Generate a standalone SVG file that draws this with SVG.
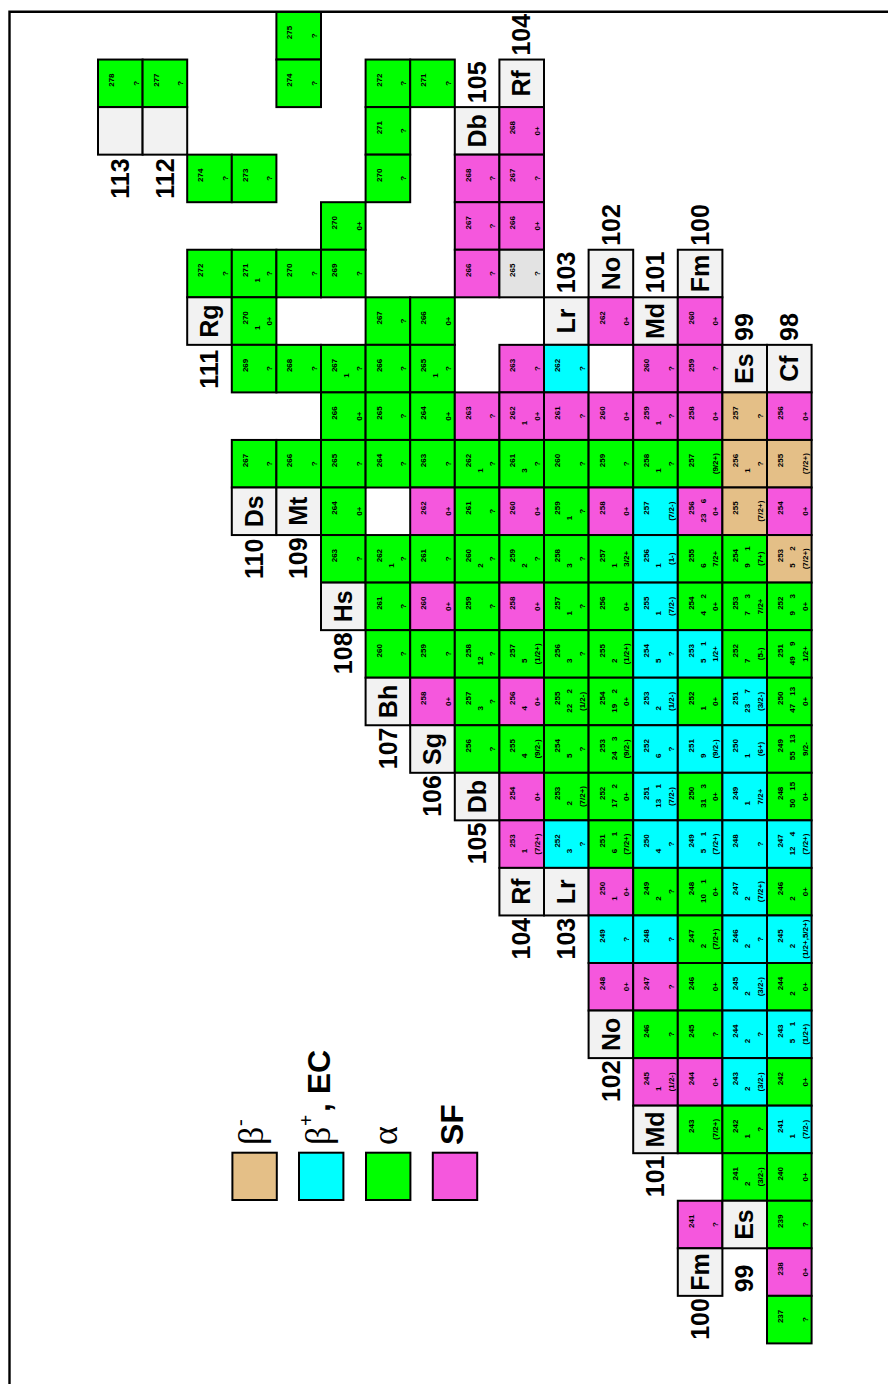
<svg xmlns="http://www.w3.org/2000/svg" width="888" height="1384" viewBox="0 0 888 1384">
<style>
.c{stroke:#000;stroke-width:2}
.g{fill:#00ff00}.p{fill:#f557dd}.b{fill:#00ffff}.t{fill:#e4bf87}.e{fill:#f2f2f2}.q{fill:#e3e3e3}
text{font-family:"Liberation Sans",Arial,sans-serif;font-weight:bold;fill:#000}
.m,.s,.n{font-size:8px;text-anchor:middle}
.L{font-size:25px;text-anchor:middle}
.Z{font-size:25px}
.gk{font-family:"Liberation Serif","Times New Roman",serif;font-weight:normal;font-size:36px}
.sf{font-size:32px}
</style>
<rect width="888" height="1384" fill="#fff"/>
<path d="M9.5 1384V11.7H888" fill="none" stroke="#000" stroke-width="2.4"/>

<!-- Z=113 -->
<g id="Z113A278" transform="translate(98,107.1) rotate(-90)"><rect class="c g" width="47.55" height="44.6"/><text class="m" x="27" y="16">278</text><text class="s" x="23.8" y="40.5">?</text></g>
<g id="Z113" transform="translate(98,154.65) rotate(-90)"><rect class="c e" width="47.55" height="44.6"/><text class="Z" x="-44" y="31">113</text></g>
<!-- Z=112 -->
<g id="Z112A277" transform="translate(142.6,107.1) rotate(-90)"><rect class="c g" width="47.55" height="44.6"/><text class="m" x="27" y="16">277</text><text class="s" x="23.8" y="40.5">?</text></g>
<g id="Z112" transform="translate(142.6,154.65) rotate(-90)"><rect class="c e" width="47.55" height="44.6"/><text class="Z" x="-44" y="31">112</text></g>
<!-- Z=111 Rg -->
<g id="Rg274" transform="translate(187.2,202.2) rotate(-90)"><rect class="c g" width="47.55" height="44.6"/><text class="m" x="27" y="16">274</text><text class="s" x="23.8" y="40.5">?</text></g>
<g id="Rg272" transform="translate(187.2,297.3) rotate(-90)"><rect class="c g" width="47.55" height="44.6"/><text class="m" x="27" y="16">272</text><text class="s" x="23.8" y="40.5">?</text></g>
<g id="Rg" transform="translate(187.2,344.85) rotate(-90)"><rect class="c e" width="47.55" height="44.6"/><text class="L" x="23.8" y="31">Rg</text><text class="Z" x="-44" y="31">111</text></g>
<!-- Z=110 Ds -->
<g id="Ds273" transform="translate(231.8,202.2) rotate(-90)"><rect class="c g" width="47.55" height="44.6"/><text class="m" x="27" y="16">273</text><text class="s" x="23.8" y="40.5">?</text></g>
<g id="Ds271" transform="translate(231.8,297.3) rotate(-90)"><rect class="c g" width="47.55" height="44.6"/><text class="m" x="27" y="16">271</text><text class="n" x="17" y="28">1</text><text class="s" x="23.8" y="40.5">?</text></g>
<g id="Ds270" transform="translate(231.8,344.85) rotate(-90)"><rect class="c g" width="47.55" height="44.6"/><text class="m" x="27" y="16">270</text><text class="n" x="17" y="28">1</text><text class="s" x="23.8" y="40.5">0+</text></g>
<g id="Ds269" transform="translate(231.8,392.4) rotate(-90)"><rect class="c g" width="47.55" height="44.6"/><text class="m" x="27" y="16">269</text><text class="s" x="23.8" y="40.5">?</text></g>
<g id="Ds267" transform="translate(231.8,487.5) rotate(-90)"><rect class="c g" width="47.55" height="44.6"/><text class="m" x="27" y="16">267</text><text class="s" x="23.8" y="40.5">?</text></g>
<g id="Ds" transform="translate(231.8,535.05) rotate(-90)"><rect class="c e" width="47.55" height="44.6"/><text class="L" x="23.8" y="31">Ds</text><text class="Z" x="-44" y="31">110</text></g>
<!-- Z=109 Mt -->
<g id="Mt275" transform="translate(276.4,59.55) rotate(-90)"><rect class="c g" width="47.55" height="44.6"/><text class="m" x="27" y="16">275</text><text class="s" x="23.8" y="40.5">?</text></g>
<g id="Mt274" transform="translate(276.4,107.1) rotate(-90)"><rect class="c g" width="47.55" height="44.6"/><text class="m" x="27" y="16">274</text><text class="s" x="23.8" y="40.5">?</text></g>
<g id="Mt270" transform="translate(276.4,297.3) rotate(-90)"><rect class="c g" width="47.55" height="44.6"/><text class="m" x="27" y="16">270</text><text class="s" x="23.8" y="40.5">?</text></g>
<g id="Mt268" transform="translate(276.4,392.4) rotate(-90)"><rect class="c g" width="47.55" height="44.6"/><text class="m" x="27" y="16">268</text><text class="s" x="23.8" y="40.5">?</text></g>
<g id="Mt266" transform="translate(276.4,487.5) rotate(-90)"><rect class="c g" width="47.55" height="44.6"/><text class="m" x="27" y="16">266</text><text class="s" x="23.8" y="40.5">?</text></g>
<g id="Mt" transform="translate(276.4,535.05) rotate(-90)"><rect class="c e" width="47.55" height="44.6"/><text class="L" x="23.8" y="31">Mt</text><text class="Z" x="-44" y="31">109</text></g>
<!-- Z=108 Hs -->
<g id="Hs270" transform="translate(321,249.75) rotate(-90)"><rect class="c g" width="47.55" height="44.6"/><text class="m" x="27" y="16">270</text><text class="s" x="23.8" y="40.5">0+</text></g>
<g id="Hs269" transform="translate(321,297.3) rotate(-90)"><rect class="c g" width="47.55" height="44.6"/><text class="m" x="27" y="16">269</text><text class="s" x="23.8" y="40.5">?</text></g>
<g id="Hs267" transform="translate(321,392.4) rotate(-90)"><rect class="c g" width="47.55" height="44.6"/><text class="m" x="27" y="16">267</text><text class="n" x="17" y="28">1</text><text class="s" x="23.8" y="40.5">?</text></g>
<g id="Hs266" transform="translate(321,439.95) rotate(-90)"><rect class="c g" width="47.55" height="44.6"/><text class="m" x="27" y="16">266</text><text class="s" x="23.8" y="40.5">0+</text></g>
<g id="Hs265" transform="translate(321,487.5) rotate(-90)"><rect class="c g" width="47.55" height="44.6"/><text class="m" x="27" y="16">265</text><text class="s" x="23.8" y="40.5">?</text></g>
<g id="Hs264" transform="translate(321,535.05) rotate(-90)"><rect class="c g" width="47.55" height="44.6"/><text class="m" x="27" y="16">264</text><text class="s" x="23.8" y="40.5">0+</text></g>
<g id="Hs263" transform="translate(321,582.6) rotate(-90)"><rect class="c g" width="47.55" height="44.6"/><text class="m" x="27" y="16">263</text><text class="s" x="23.8" y="40.5">?</text></g>
<g id="Hs" transform="translate(321,630.15) rotate(-90)"><rect class="c e" width="47.55" height="44.6"/><text class="L" x="23.8" y="31">Hs</text><text class="Z" x="-44" y="31">108</text></g>
<!-- Z=107 Bh -->
<g id="Bh272" transform="translate(365.6,107.1) rotate(-90)"><rect class="c g" width="47.55" height="44.6"/><text class="m" x="27" y="16">272</text><text class="s" x="23.8" y="40.5">?</text></g>
<g id="Bh271" transform="translate(365.6,154.65) rotate(-90)"><rect class="c g" width="47.55" height="44.6"/><text class="m" x="27" y="16">271</text><text class="s" x="23.8" y="40.5">?</text></g>
<g id="Bh270" transform="translate(365.6,202.2) rotate(-90)"><rect class="c g" width="47.55" height="44.6"/><text class="m" x="27" y="16">270</text><text class="s" x="23.8" y="40.5">?</text></g>
<g id="Bh267" transform="translate(365.6,344.85) rotate(-90)"><rect class="c g" width="47.55" height="44.6"/><text class="m" x="27" y="16">267</text><text class="s" x="23.8" y="40.5">?</text></g>
<g id="Bh266" transform="translate(365.6,392.4) rotate(-90)"><rect class="c g" width="47.55" height="44.6"/><text class="m" x="27" y="16">266</text><text class="s" x="23.8" y="40.5">?</text></g>
<g id="Bh265" transform="translate(365.6,439.95) rotate(-90)"><rect class="c g" width="47.55" height="44.6"/><text class="m" x="27" y="16">265</text><text class="s" x="23.8" y="40.5">?</text></g>
<g id="Bh264" transform="translate(365.6,487.5) rotate(-90)"><rect class="c g" width="47.55" height="44.6"/><text class="m" x="27" y="16">264</text><text class="s" x="23.8" y="40.5">?</text></g>
<g id="Bh262" transform="translate(365.6,582.6) rotate(-90)"><rect class="c g" width="47.55" height="44.6"/><text class="m" x="27" y="16">262</text><text class="n" x="17" y="28">1</text><text class="s" x="23.8" y="40.5">?</text></g>
<g id="Bh261" transform="translate(365.6,630.15) rotate(-90)"><rect class="c g" width="47.55" height="44.6"/><text class="m" x="27" y="16">261</text><text class="s" x="23.8" y="40.5">?</text></g>
<g id="Bh260" transform="translate(365.6,677.7) rotate(-90)"><rect class="c g" width="47.55" height="44.6"/><text class="m" x="27" y="16">260</text><text class="s" x="23.8" y="40.5">?</text></g>
<g id="Bh" transform="translate(365.6,725.25) rotate(-90)"><rect class="c e" width="47.55" height="44.6"/><text class="L" x="23.8" y="31">Bh</text><text class="Z" x="-44" y="31">107</text></g>
<!-- Z=106 Sg -->
<g id="Sg271" transform="translate(410.2,107.1) rotate(-90)"><rect class="c g" width="47.55" height="44.6"/><text class="m" x="27" y="16">271</text><text class="s" x="23.8" y="40.5">?</text></g>
<g id="Sg266" transform="translate(410.2,344.85) rotate(-90)"><rect class="c g" width="47.55" height="44.6"/><text class="m" x="27" y="16">266</text><text class="s" x="23.8" y="40.5">0+</text></g>
<g id="Sg265" transform="translate(410.2,392.4) rotate(-90)"><rect class="c g" width="47.55" height="44.6"/><text class="m" x="27" y="16">265</text><text class="n" x="17" y="28">1</text><text class="s" x="23.8" y="40.5">?</text></g>
<g id="Sg264" transform="translate(410.2,439.95) rotate(-90)"><rect class="c g" width="47.55" height="44.6"/><text class="m" x="27" y="16">264</text><text class="s" x="23.8" y="40.5">0+</text></g>
<g id="Sg263" transform="translate(410.2,487.5) rotate(-90)"><rect class="c g" width="47.55" height="44.6"/><text class="m" x="27" y="16">263</text><text class="s" x="23.8" y="40.5">?</text></g>
<g id="Sg262" transform="translate(410.2,535.05) rotate(-90)"><rect class="c p" width="47.55" height="44.6"/><text class="m" x="27" y="16">262</text><text class="s" x="23.8" y="40.5">0+</text></g>
<g id="Sg261" transform="translate(410.2,582.6) rotate(-90)"><rect class="c g" width="47.55" height="44.6"/><text class="m" x="27" y="16">261</text><text class="s" x="23.8" y="40.5">?</text></g>
<g id="Sg260" transform="translate(410.2,630.15) rotate(-90)"><rect class="c p" width="47.55" height="44.6"/><text class="m" x="27" y="16">260</text><text class="s" x="23.8" y="40.5">0+</text></g>
<g id="Sg259" transform="translate(410.2,677.7) rotate(-90)"><rect class="c g" width="47.55" height="44.6"/><text class="m" x="27" y="16">259</text><text class="s" x="23.8" y="40.5">?</text></g>
<g id="Sg258" transform="translate(410.2,725.25) rotate(-90)"><rect class="c p" width="47.55" height="44.6"/><text class="m" x="27" y="16">258</text><text class="s" x="23.8" y="40.5">0+</text></g>
<g id="Sg" transform="translate(410.2,772.8) rotate(-90)"><rect class="c e" width="47.55" height="44.6"/><text class="L" x="23.8" y="31">Sg</text><text class="Z" x="-44" y="31">106</text></g>
<!-- Z=105 Db -->
<g id="Db_top" transform="translate(454.8,154.65) rotate(-90)"><rect class="c e" width="47.55" height="44.6"/><text class="L" x="23.8" y="31">Db</text><text class="Z" x="51.5" y="31">105</text></g>
<g id="Db268" transform="translate(454.8,202.2) rotate(-90)"><rect class="c p" width="47.55" height="44.6"/><text class="m" x="27" y="16">268</text><text class="s" x="23.8" y="40.5">?</text></g>
<g id="Db267" transform="translate(454.8,249.75) rotate(-90)"><rect class="c p" width="47.55" height="44.6"/><text class="m" x="27" y="16">267</text><text class="s" x="23.8" y="40.5">?</text></g>
<g id="Db266" transform="translate(454.8,297.3) rotate(-90)"><rect class="c p" width="47.55" height="44.6"/><text class="m" x="27" y="16">266</text><text class="s" x="23.8" y="40.5">?</text></g>
<g id="Db263" transform="translate(454.8,439.95) rotate(-90)"><rect class="c p" width="47.55" height="44.6"/><text class="m" x="27" y="16">263</text><text class="s" x="23.8" y="40.5">?</text></g>
<g id="Db262" transform="translate(454.8,487.5) rotate(-90)"><rect class="c g" width="47.55" height="44.6"/><text class="m" x="27" y="16">262</text><text class="n" x="17" y="28">1</text><text class="s" x="23.8" y="40.5">?</text></g>
<g id="Db261" transform="translate(454.8,535.05) rotate(-90)"><rect class="c g" width="47.55" height="44.6"/><text class="m" x="27" y="16">261</text><text class="s" x="23.8" y="40.5">?</text></g>
<g id="Db260" transform="translate(454.8,582.6) rotate(-90)"><rect class="c g" width="47.55" height="44.6"/><text class="m" x="27" y="16">260</text><text class="n" x="17" y="28">2</text><text class="s" x="23.8" y="40.5">?</text></g>
<g id="Db259" transform="translate(454.8,630.15) rotate(-90)"><rect class="c g" width="47.55" height="44.6"/><text class="m" x="27" y="16">259</text><text class="s" x="23.8" y="40.5">?</text></g>
<g id="Db258" transform="translate(454.8,677.7) rotate(-90)"><rect class="c g" width="47.55" height="44.6"/><text class="m" x="27" y="16">258</text><text class="n" x="17" y="28">12</text><text class="s" x="23.8" y="40.5">?</text></g>
<g id="Db257" transform="translate(454.8,725.25) rotate(-90)"><rect class="c g" width="47.55" height="44.6"/><text class="m" x="27" y="16">257</text><text class="n" x="17" y="28">3</text><text class="s" x="23.8" y="40.5">?</text></g>
<g id="Db256" transform="translate(454.8,772.8) rotate(-90)"><rect class="c g" width="47.55" height="44.6"/><text class="m" x="27" y="16">256</text><text class="s" x="23.8" y="40.5">?</text></g>
<g id="Db" transform="translate(454.8,820.35) rotate(-90)"><rect class="c e" width="47.55" height="44.6"/><text class="L" x="23.8" y="31">Db</text><text class="Z" x="-44" y="31">105</text></g>
<!-- Z=104 Rf -->
<g id="Rf_top" transform="translate(499.4,107.1) rotate(-90)"><rect class="c e" width="47.55" height="44.6"/><text class="L" x="23.8" y="31">Rf</text><text class="Z" x="51.5" y="31">104</text></g>
<g id="Rf268" transform="translate(499.4,154.65) rotate(-90)"><rect class="c p" width="47.55" height="44.6"/><text class="m" x="27" y="16">268</text><text class="s" x="23.8" y="40.5">0+</text></g>
<g id="Rf267" transform="translate(499.4,202.2) rotate(-90)"><rect class="c p" width="47.55" height="44.6"/><text class="m" x="27" y="16">267</text><text class="s" x="23.8" y="40.5">?</text></g>
<g id="Rf266" transform="translate(499.4,249.75) rotate(-90)"><rect class="c p" width="47.55" height="44.6"/><text class="m" x="27" y="16">266</text><text class="s" x="23.8" y="40.5">0+</text></g>
<g id="Rf265" transform="translate(499.4,297.3) rotate(-90)"><rect class="c q" width="47.55" height="44.6"/><text class="m" x="27" y="16">265</text><text class="s" x="23.8" y="40.5">?</text></g>
<g id="Rf263" transform="translate(499.4,392.4) rotate(-90)"><rect class="c p" width="47.55" height="44.6"/><text class="m" x="27" y="16">263</text><text class="s" x="23.8" y="40.5">?</text></g>
<g id="Rf262" transform="translate(499.4,439.95) rotate(-90)"><rect class="c p" width="47.55" height="44.6"/><text class="m" x="27" y="16">262</text><text class="n" x="17" y="28">1</text><text class="s" x="23.8" y="40.5">0+</text></g>
<g id="Rf261" transform="translate(499.4,487.5) rotate(-90)"><rect class="c g" width="47.55" height="44.6"/><text class="m" x="27" y="16">261</text><text class="n" x="17" y="28">3</text><text class="s" x="23.8" y="40.5">?</text></g>
<g id="Rf260" transform="translate(499.4,535.05) rotate(-90)"><rect class="c p" width="47.55" height="44.6"/><text class="m" x="27" y="16">260</text><text class="s" x="23.8" y="40.5">0+</text></g>
<g id="Rf259" transform="translate(499.4,582.6) rotate(-90)"><rect class="c g" width="47.55" height="44.6"/><text class="m" x="27" y="16">259</text><text class="n" x="17" y="28">2</text><text class="s" x="23.8" y="40.5">?</text></g>
<g id="Rf258" transform="translate(499.4,630.15) rotate(-90)"><rect class="c p" width="47.55" height="44.6"/><text class="m" x="27" y="16">258</text><text class="s" x="23.8" y="40.5">0+</text></g>
<g id="Rf257" transform="translate(499.4,677.7) rotate(-90)"><rect class="c g" width="47.55" height="44.6"/><text class="m" x="27" y="16">257</text><text class="n" x="17" y="28">5</text><text class="s" x="23.8" y="40.5">(1/2+)</text></g>
<g id="Rf256" transform="translate(499.4,725.25) rotate(-90)"><rect class="c p" width="47.55" height="44.6"/><text class="m" x="27" y="16">256</text><text class="n" x="17" y="28">4</text><text class="s" x="23.8" y="40.5">0+</text></g>
<g id="Rf255" transform="translate(499.4,772.8) rotate(-90)"><rect class="c g" width="47.55" height="44.6"/><text class="m" x="27" y="16">255</text><text class="n" x="17" y="28">4</text><text class="s" x="23.8" y="40.5">(9/2-)</text></g>
<g id="Rf254" transform="translate(499.4,820.35) rotate(-90)"><rect class="c p" width="47.55" height="44.6"/><text class="m" x="27" y="16">254</text><text class="s" x="23.8" y="40.5">0+</text></g>
<g id="Rf253" transform="translate(499.4,867.9) rotate(-90)"><rect class="c p" width="47.55" height="44.6"/><text class="m" x="27" y="16">253</text><text class="n" x="17" y="28">1</text><text class="s" x="23.8" y="40.5">(7/2+)</text></g>
<g id="Rf" transform="translate(499.4,915.45) rotate(-90)"><rect class="c e" width="47.55" height="44.6"/><text class="L" x="23.8" y="31">Rf</text><text class="Z" x="-44" y="31">104</text></g>
<!-- Z=103 Lr -->
<g id="Lr_top" transform="translate(544,344.85) rotate(-90)"><rect class="c e" width="47.55" height="44.6"/><text class="L" x="23.8" y="31">Lr</text><text class="Z" x="51.5" y="31">103</text></g>
<g id="Lr262" transform="translate(544,392.4) rotate(-90)"><rect class="c b" width="47.55" height="44.6"/><text class="m" x="27" y="16">262</text><text class="s" x="23.8" y="40.5">?</text></g>
<g id="Lr261" transform="translate(544,439.95) rotate(-90)"><rect class="c p" width="47.55" height="44.6"/><text class="m" x="27" y="16">261</text><text class="s" x="23.8" y="40.5">?</text></g>
<g id="Lr260" transform="translate(544,487.5) rotate(-90)"><rect class="c g" width="47.55" height="44.6"/><text class="m" x="27" y="16">260</text><text class="s" x="23.8" y="40.5">?</text></g>
<g id="Lr259" transform="translate(544,535.05) rotate(-90)"><rect class="c g" width="47.55" height="44.6"/><text class="m" x="27" y="16">259</text><text class="n" x="17" y="28">1</text><text class="s" x="23.8" y="40.5">?</text></g>
<g id="Lr258" transform="translate(544,582.6) rotate(-90)"><rect class="c g" width="47.55" height="44.6"/><text class="m" x="27" y="16">258</text><text class="n" x="17" y="28">3</text><text class="s" x="23.8" y="40.5">?</text></g>
<g id="Lr257" transform="translate(544,630.15) rotate(-90)"><rect class="c g" width="47.55" height="44.6"/><text class="m" x="27" y="16">257</text><text class="n" x="17" y="28">1</text><text class="s" x="23.8" y="40.5">?</text></g>
<g id="Lr256" transform="translate(544,677.7) rotate(-90)"><rect class="c g" width="47.55" height="44.6"/><text class="m" x="27" y="16">256</text><text class="n" x="17" y="28">3</text><text class="s" x="23.8" y="40.5">?</text></g>
<g id="Lr255" transform="translate(544,725.25) rotate(-90)"><rect class="c g" width="47.55" height="44.6"/><text class="m" x="27" y="16">255</text><text class="n" x="17" y="28">22</text><text class="n" x="34" y="28">2</text><text class="s" x="23.8" y="40.5">(1/2-)</text></g>
<g id="Lr254" transform="translate(544,772.8) rotate(-90)"><rect class="c g" width="47.55" height="44.6"/><text class="m" x="27" y="16">254</text><text class="n" x="17" y="28">5</text><text class="s" x="23.8" y="40.5">?</text></g>
<g id="Lr253" transform="translate(544,820.35) rotate(-90)"><rect class="c g" width="47.55" height="44.6"/><text class="m" x="27" y="16">253</text><text class="n" x="17" y="28">2</text><text class="s" x="23.8" y="40.5">(7/2+)</text></g>
<g id="Lr252" transform="translate(544,867.9) rotate(-90)"><rect class="c b" width="47.55" height="44.6"/><text class="m" x="27" y="16">252</text><text class="n" x="17" y="28">3</text><text class="s" x="23.8" y="40.5">?</text></g>
<g id="Lr" transform="translate(544,915.45) rotate(-90)"><rect class="c e" width="47.55" height="44.6"/><text class="L" x="23.8" y="31">Lr</text><text class="Z" x="-44" y="31">103</text></g>
<!-- Z=102 No -->
<g id="No_top" transform="translate(588.6,297.3) rotate(-90)"><rect class="c e" width="47.55" height="44.6"/><text class="L" x="23.8" y="31">No</text><text class="Z" x="51.5" y="31">102</text></g>
<g id="No262" transform="translate(588.6,344.85) rotate(-90)"><rect class="c p" width="47.55" height="44.6"/><text class="m" x="27" y="16">262</text><text class="s" x="23.8" y="40.5">0+</text></g>
<g id="No260" transform="translate(588.6,439.95) rotate(-90)"><rect class="c p" width="47.55" height="44.6"/><text class="m" x="27" y="16">260</text><text class="s" x="23.8" y="40.5">0+</text></g>
<g id="No259" transform="translate(588.6,487.5) rotate(-90)"><rect class="c g" width="47.55" height="44.6"/><text class="m" x="27" y="16">259</text><text class="s" x="23.8" y="40.5">?</text></g>
<g id="No258" transform="translate(588.6,535.05) rotate(-90)"><rect class="c p" width="47.55" height="44.6"/><text class="m" x="27" y="16">258</text><text class="s" x="23.8" y="40.5">0+</text></g>
<g id="No257" transform="translate(588.6,582.6) rotate(-90)"><rect class="c g" width="47.55" height="44.6"/><text class="m" x="27" y="16">257</text><text class="n" x="17" y="28">1</text><text class="s" x="23.8" y="40.5">3/2+</text></g>
<g id="No256" transform="translate(588.6,630.15) rotate(-90)"><rect class="c g" width="47.55" height="44.6"/><text class="m" x="27" y="16">256</text><text class="s" x="23.8" y="40.5">0+</text></g>
<g id="No255" transform="translate(588.6,677.7) rotate(-90)"><rect class="c g" width="47.55" height="44.6"/><text class="m" x="27" y="16">255</text><text class="n" x="17" y="28">2</text><text class="s" x="23.8" y="40.5">(1/2+)</text></g>
<g id="No254" transform="translate(588.6,725.25) rotate(-90)"><rect class="c g" width="47.55" height="44.6"/><text class="m" x="27" y="16">254</text><text class="n" x="17" y="28">19</text><text class="n" x="34" y="28">2</text><text class="s" x="23.8" y="40.5">0+</text></g>
<g id="No253" transform="translate(588.6,772.8) rotate(-90)"><rect class="c g" width="47.55" height="44.6"/><text class="m" x="27" y="16">253</text><text class="n" x="17" y="28">24</text><text class="n" x="34" y="28">3</text><text class="s" x="23.8" y="40.5">(9/2-)</text></g>
<g id="No252" transform="translate(588.6,820.35) rotate(-90)"><rect class="c g" width="47.55" height="44.6"/><text class="m" x="27" y="16">252</text><text class="n" x="17" y="28">17</text><text class="n" x="34" y="28">2</text><text class="s" x="23.8" y="40.5">0+</text></g>
<g id="No251" transform="translate(588.6,867.9) rotate(-90)"><rect class="c g" width="47.55" height="44.6"/><text class="m" x="27" y="16">251</text><text class="n" x="17" y="28">6</text><text class="n" x="34" y="28">1</text><text class="s" x="23.8" y="40.5">(7/2+)</text></g>
<g id="No250" transform="translate(588.6,915.45) rotate(-90)"><rect class="c p" width="47.55" height="44.6"/><text class="m" x="27" y="16">250</text><text class="n" x="17" y="28">1</text><text class="s" x="23.8" y="40.5">0+</text></g>
<g id="No249" transform="translate(588.6,963) rotate(-90)"><rect class="c b" width="47.55" height="44.6"/><text class="m" x="27" y="16">249</text><text class="s" x="23.8" y="40.5">?</text></g>
<g id="No248" transform="translate(588.6,1010.55) rotate(-90)"><rect class="c p" width="47.55" height="44.6"/><text class="m" x="27" y="16">248</text><text class="s" x="23.8" y="40.5">0+</text></g>
<g id="No" transform="translate(588.6,1058.1) rotate(-90)"><rect class="c e" width="47.55" height="44.6"/><text class="L" x="23.8" y="31">No</text><text class="Z" x="-44" y="31">102</text></g>
<!-- Z=101 Md -->
<g id="Md_top" transform="translate(633.2,344.85) rotate(-90)"><rect class="c e" width="47.55" height="44.6"/><text class="L" x="23.8" y="31">Md</text><text class="Z" x="51.5" y="31">101</text></g>
<g id="Md260" transform="translate(633.2,392.4) rotate(-90)"><rect class="c p" width="47.55" height="44.6"/><text class="m" x="27" y="16">260</text><text class="s" x="23.8" y="40.5">?</text></g>
<g id="Md259" transform="translate(633.2,439.95) rotate(-90)"><rect class="c p" width="47.55" height="44.6"/><text class="m" x="27" y="16">259</text><text class="n" x="17" y="28">1</text><text class="s" x="23.8" y="40.5">?</text></g>
<g id="Md258" transform="translate(633.2,487.5) rotate(-90)"><rect class="c g" width="47.55" height="44.6"/><text class="m" x="27" y="16">258</text><text class="n" x="17" y="28">1</text><text class="s" x="23.8" y="40.5">?</text></g>
<g id="Md257" transform="translate(633.2,535.05) rotate(-90)"><rect class="c b" width="47.55" height="44.6"/><text class="m" x="27" y="16">257</text><text class="s" x="23.8" y="40.5">(7/2-)</text></g>
<g id="Md256" transform="translate(633.2,582.6) rotate(-90)"><rect class="c b" width="47.55" height="44.6"/><text class="m" x="27" y="16">256</text><text class="n" x="17" y="28">1</text><text class="s" x="23.8" y="40.5">(1-)</text></g>
<g id="Md255" transform="translate(633.2,630.15) rotate(-90)"><rect class="c b" width="47.55" height="44.6"/><text class="m" x="27" y="16">255</text><text class="n" x="17" y="28">1</text><text class="s" x="23.8" y="40.5">(7/2-)</text></g>
<g id="Md254" transform="translate(633.2,677.7) rotate(-90)"><rect class="c b" width="47.55" height="44.6"/><text class="m" x="27" y="16">254</text><text class="n" x="17" y="28">5</text><text class="s" x="23.8" y="40.5">?</text></g>
<g id="Md253" transform="translate(633.2,725.25) rotate(-90)"><rect class="c b" width="47.55" height="44.6"/><text class="m" x="27" y="16">253</text><text class="n" x="17" y="28">2</text><text class="s" x="23.8" y="40.5">(1/2-)</text></g>
<g id="Md252" transform="translate(633.2,772.8) rotate(-90)"><rect class="c b" width="47.55" height="44.6"/><text class="m" x="27" y="16">252</text><text class="n" x="17" y="28">6</text><text class="s" x="23.8" y="40.5">?</text></g>
<g id="Md251" transform="translate(633.2,820.35) rotate(-90)"><rect class="c b" width="47.55" height="44.6"/><text class="m" x="27" y="16">251</text><text class="n" x="17" y="28">13</text><text class="n" x="34" y="28">1</text><text class="s" x="23.8" y="40.5">(7/2-)</text></g>
<g id="Md250" transform="translate(633.2,867.9) rotate(-90)"><rect class="c b" width="47.55" height="44.6"/><text class="m" x="27" y="16">250</text><text class="n" x="17" y="28">4</text><text class="s" x="23.8" y="40.5">?</text></g>
<g id="Md249" transform="translate(633.2,915.45) rotate(-90)"><rect class="c g" width="47.55" height="44.6"/><text class="m" x="27" y="16">249</text><text class="n" x="17" y="28">2</text><text class="s" x="23.8" y="40.5">?</text></g>
<g id="Md248" transform="translate(633.2,963) rotate(-90)"><rect class="c b" width="47.55" height="44.6"/><text class="m" x="27" y="16">248</text><text class="s" x="23.8" y="40.5">?</text></g>
<g id="Md247" transform="translate(633.2,1010.55) rotate(-90)"><rect class="c p" width="47.55" height="44.6"/><text class="m" x="27" y="16">247</text><text class="s" x="23.8" y="40.5">?</text></g>
<g id="Md246" transform="translate(633.2,1058.1) rotate(-90)"><rect class="c g" width="47.55" height="44.6"/><text class="m" x="27" y="16">246</text><text class="s" x="23.8" y="40.5">?</text></g>
<g id="Md245" transform="translate(633.2,1105.65) rotate(-90)"><rect class="c p" width="47.55" height="44.6"/><text class="m" x="27" y="16">245</text><text class="n" x="17" y="28">1</text><text class="s" x="23.8" y="40.5">(1/2-)</text></g>
<g id="Md" transform="translate(633.2,1153.2) rotate(-90)"><rect class="c e" width="47.55" height="44.6"/><text class="L" x="23.8" y="31">Md</text><text class="Z" x="-44" y="31">101</text></g>
<!-- Z=100 Fm -->
<g id="Fm_top" transform="translate(677.8,297.3) rotate(-90)"><rect class="c e" width="47.55" height="44.6"/><text class="L" x="23.8" y="31">Fm</text><text class="Z" x="51.5" y="31">100</text></g>
<g id="Fm260" transform="translate(677.8,344.85) rotate(-90)"><rect class="c p" width="47.55" height="44.6"/><text class="m" x="27" y="16">260</text><text class="s" x="23.8" y="40.5">0+</text></g>
<g id="Fm259" transform="translate(677.8,392.4) rotate(-90)"><rect class="c p" width="47.55" height="44.6"/><text class="m" x="27" y="16">259</text><text class="s" x="23.8" y="40.5">?</text></g>
<g id="Fm258" transform="translate(677.8,439.95) rotate(-90)"><rect class="c p" width="47.55" height="44.6"/><text class="m" x="27" y="16">258</text><text class="s" x="23.8" y="40.5">0+</text></g>
<g id="Fm257" transform="translate(677.8,487.5) rotate(-90)"><rect class="c g" width="47.55" height="44.6"/><text class="m" x="27" y="16">257</text><text class="s" x="23.8" y="40.5">(9/2+)</text></g>
<g id="Fm256" transform="translate(677.8,535.05) rotate(-90)"><rect class="c p" width="47.55" height="44.6"/><text class="m" x="27" y="16">256</text><text class="n" x="17" y="28">23</text><text class="n" x="34" y="28">6</text><text class="s" x="23.8" y="40.5">0+</text></g>
<g id="Fm255" transform="translate(677.8,582.6) rotate(-90)"><rect class="c g" width="47.55" height="44.6"/><text class="m" x="27" y="16">255</text><text class="n" x="17" y="28">6</text><text class="s" x="23.8" y="40.5">7/2+</text></g>
<g id="Fm254" transform="translate(677.8,630.15) rotate(-90)"><rect class="c g" width="47.55" height="44.6"/><text class="m" x="27" y="16">254</text><text class="n" x="17" y="28">4</text><text class="n" x="34" y="28">2</text><text class="s" x="23.8" y="40.5">0+</text></g>
<g id="Fm253" transform="translate(677.8,677.7) rotate(-90)"><rect class="c b" width="47.55" height="44.6"/><text class="m" x="27" y="16">253</text><text class="n" x="17" y="28">5</text><text class="n" x="34" y="28">1</text><text class="s" x="23.8" y="40.5">1/2+</text></g>
<g id="Fm252" transform="translate(677.8,725.25) rotate(-90)"><rect class="c g" width="47.55" height="44.6"/><text class="m" x="27" y="16">252</text><text class="n" x="17" y="28">1</text><text class="s" x="23.8" y="40.5">0+</text></g>
<g id="Fm251" transform="translate(677.8,772.8) rotate(-90)"><rect class="c b" width="47.55" height="44.6"/><text class="m" x="27" y="16">251</text><text class="n" x="17" y="28">9</text><text class="s" x="23.8" y="40.5">(9/2-)</text></g>
<g id="Fm250" transform="translate(677.8,820.35) rotate(-90)"><rect class="c g" width="47.55" height="44.6"/><text class="m" x="27" y="16">250</text><text class="n" x="17" y="28">31</text><text class="n" x="34" y="28">3</text><text class="s" x="23.8" y="40.5">0+</text></g>
<g id="Fm249" transform="translate(677.8,867.9) rotate(-90)"><rect class="c b" width="47.55" height="44.6"/><text class="m" x="27" y="16">249</text><text class="n" x="17" y="28">5</text><text class="n" x="34" y="28">1</text><text class="s" x="23.8" y="40.5">(7/2+)</text></g>
<g id="Fm248" transform="translate(677.8,915.45) rotate(-90)"><rect class="c g" width="47.55" height="44.6"/><text class="m" x="27" y="16">248</text><text class="n" x="17" y="28">10</text><text class="n" x="34" y="28">1</text><text class="s" x="23.8" y="40.5">0+</text></g>
<g id="Fm247" transform="translate(677.8,963) rotate(-90)"><rect class="c g" width="47.55" height="44.6"/><text class="m" x="27" y="16">247</text><text class="n" x="17" y="28">2</text><text class="s" x="23.8" y="40.5">(7/2+)</text></g>
<g id="Fm246" transform="translate(677.8,1010.55) rotate(-90)"><rect class="c g" width="47.55" height="44.6"/><text class="m" x="27" y="16">246</text><text class="s" x="23.8" y="40.5">0+</text></g>
<g id="Fm245" transform="translate(677.8,1058.1) rotate(-90)"><rect class="c g" width="47.55" height="44.6"/><text class="m" x="27" y="16">245</text><text class="s" x="23.8" y="40.5">?</text></g>
<g id="Fm244" transform="translate(677.8,1105.65) rotate(-90)"><rect class="c p" width="47.55" height="44.6"/><text class="m" x="27" y="16">244</text><text class="s" x="23.8" y="40.5">0+</text></g>
<g id="Fm243" transform="translate(677.8,1153.2) rotate(-90)"><rect class="c g" width="47.55" height="44.6"/><text class="m" x="27" y="16">243</text><text class="s" x="23.8" y="40.5">(7/2+)</text></g>
<g id="Fm241" transform="translate(677.8,1248.3) rotate(-90)"><rect class="c p" width="47.55" height="44.6"/><text class="m" x="27" y="16">241</text><text class="s" x="23.8" y="40.5">?</text></g>
<g id="Fm" transform="translate(677.8,1295.85) rotate(-90)"><rect class="c e" width="47.55" height="44.6"/><text class="L" x="23.8" y="31">Fm</text><text class="Z" x="-44" y="31">100</text></g>
<!-- Z=99 Es -->
<g id="Es_top" transform="translate(722.4,392.4) rotate(-90)"><rect class="c e" width="47.55" height="44.6"/><text class="L" x="23.8" y="31">Es</text><text class="Z" x="51.5" y="31">99</text></g>
<g id="Es257" transform="translate(722.4,439.95) rotate(-90)"><rect class="c t" width="47.55" height="44.6"/><text class="m" x="27" y="16">257</text><text class="s" x="23.8" y="40.5">?</text></g>
<g id="Es256" transform="translate(722.4,487.5) rotate(-90)"><rect class="c t" width="47.55" height="44.6"/><text class="m" x="27" y="16">256</text><text class="n" x="17" y="28">1</text><text class="s" x="23.8" y="40.5">?</text></g>
<g id="Es255" transform="translate(722.4,535.05) rotate(-90)"><rect class="c t" width="47.55" height="44.6"/><text class="m" x="27" y="16">255</text><text class="s" x="23.8" y="40.5">(7/2+)</text></g>
<g id="Es254" transform="translate(722.4,582.6) rotate(-90)"><rect class="c g" width="47.55" height="44.6"/><text class="m" x="27" y="16">254</text><text class="n" x="17" y="28">9</text><text class="n" x="34" y="28">1</text><text class="s" x="23.8" y="40.5">(7+)</text></g>
<g id="Es253" transform="translate(722.4,630.15) rotate(-90)"><rect class="c g" width="47.55" height="44.6"/><text class="m" x="27" y="16">253</text><text class="n" x="17" y="28">7</text><text class="n" x="34" y="28">3</text><text class="s" x="23.8" y="40.5">7/2+</text></g>
<g id="Es252" transform="translate(722.4,677.7) rotate(-90)"><rect class="c g" width="47.55" height="44.6"/><text class="m" x="27" y="16">252</text><text class="n" x="17" y="28">7</text><text class="s" x="23.8" y="40.5">(5-)</text></g>
<g id="Es251" transform="translate(722.4,725.25) rotate(-90)"><rect class="c b" width="47.55" height="44.6"/><text class="m" x="27" y="16">251</text><text class="n" x="17" y="28">23</text><text class="n" x="34" y="28">7</text><text class="s" x="23.8" y="40.5">(3/2-)</text></g>
<g id="Es250" transform="translate(722.4,772.8) rotate(-90)"><rect class="c b" width="47.55" height="44.6"/><text class="m" x="27" y="16">250</text><text class="n" x="17" y="28">1</text><text class="s" x="23.8" y="40.5">(6+)</text></g>
<g id="Es249" transform="translate(722.4,820.35) rotate(-90)"><rect class="c b" width="47.55" height="44.6"/><text class="m" x="27" y="16">249</text><text class="n" x="17" y="28">1</text><text class="s" x="23.8" y="40.5">7/2+</text></g>
<g id="Es248" transform="translate(722.4,867.9) rotate(-90)"><rect class="c b" width="47.55" height="44.6"/><text class="m" x="27" y="16">248</text><text class="s" x="23.8" y="40.5">?</text></g>
<g id="Es247" transform="translate(722.4,915.45) rotate(-90)"><rect class="c b" width="47.55" height="44.6"/><text class="m" x="27" y="16">247</text><text class="n" x="17" y="28">2</text><text class="s" x="23.8" y="40.5">(7/2+)</text></g>
<g id="Es246" transform="translate(722.4,963) rotate(-90)"><rect class="c b" width="47.55" height="44.6"/><text class="m" x="27" y="16">246</text><text class="n" x="17" y="28">2</text><text class="s" x="23.8" y="40.5">?</text></g>
<g id="Es245" transform="translate(722.4,1010.55) rotate(-90)"><rect class="c b" width="47.55" height="44.6"/><text class="m" x="27" y="16">245</text><text class="n" x="17" y="28">2</text><text class="s" x="23.8" y="40.5">(3/2-)</text></g>
<g id="Es244" transform="translate(722.4,1058.1) rotate(-90)"><rect class="c b" width="47.55" height="44.6"/><text class="m" x="27" y="16">244</text><text class="n" x="17" y="28">2</text><text class="s" x="23.8" y="40.5">?</text></g>
<g id="Es243" transform="translate(722.4,1105.65) rotate(-90)"><rect class="c b" width="47.55" height="44.6"/><text class="m" x="27" y="16">243</text><text class="n" x="17" y="28">2</text><text class="s" x="23.8" y="40.5">(3/2-)</text></g>
<g id="Es242" transform="translate(722.4,1153.2) rotate(-90)"><rect class="c g" width="47.55" height="44.6"/><text class="m" x="27" y="16">242</text><text class="n" x="17" y="28">1</text><text class="s" x="23.8" y="40.5">?</text></g>
<g id="Es241" transform="translate(722.4,1200.75) rotate(-90)"><rect class="c g" width="47.55" height="44.6"/><text class="m" x="27" y="16">241</text><text class="n" x="17" y="28">2</text><text class="s" x="23.8" y="40.5">(3/2-)</text></g>
<g id="Es" transform="translate(722.4,1248.3) rotate(-90)"><rect class="c e" width="47.55" height="44.6"/><text class="L" x="23.8" y="31">Es</text><text class="Z" x="-44" y="31">99</text></g>
<!-- Z=98 Cf -->
<g id="Cf_top" transform="translate(767,392.4) rotate(-90)"><rect class="c e" width="47.55" height="44.6"/><text class="L" x="23.8" y="31">Cf</text><text class="Z" x="51.5" y="31">98</text></g>
<g id="Cf256" transform="translate(767,439.95) rotate(-90)"><rect class="c p" width="47.55" height="44.6"/><text class="m" x="27" y="16">256</text><text class="s" x="23.8" y="40.5">0+</text></g>
<g id="Cf255" transform="translate(767,487.5) rotate(-90)"><rect class="c t" width="47.55" height="44.6"/><text class="m" x="27" y="16">255</text><text class="s" x="23.8" y="40.5">(7/2+)</text></g>
<g id="Cf254" transform="translate(767,535.05) rotate(-90)"><rect class="c p" width="47.55" height="44.6"/><text class="m" x="27" y="16">254</text><text class="s" x="23.8" y="40.5">0+</text></g>
<g id="Cf253" transform="translate(767,582.6) rotate(-90)"><rect class="c t" width="47.55" height="44.6"/><text class="m" x="27" y="16">253</text><text class="n" x="17" y="28">5</text><text class="n" x="34" y="28">2</text><text class="s" x="23.8" y="40.5">(7/2+)</text></g>
<g id="Cf252" transform="translate(767,630.15) rotate(-90)"><rect class="c g" width="47.55" height="44.6"/><text class="m" x="27" y="16">252</text><text class="n" x="17" y="28">9</text><text class="n" x="34" y="28">3</text><text class="s" x="23.8" y="40.5">0+</text></g>
<g id="Cf251" transform="translate(767,677.7) rotate(-90)"><rect class="c g" width="47.55" height="44.6"/><text class="m" x="27" y="16">251</text><text class="n" x="17" y="28">49</text><text class="n" x="34" y="28">9</text><text class="s" x="23.8" y="40.5">1/2+</text></g>
<g id="Cf250" transform="translate(767,725.25) rotate(-90)"><rect class="c g" width="47.55" height="44.6"/><text class="m" x="27" y="16">250</text><text class="n" x="17" y="28">47</text><text class="n" x="34" y="28">13</text><text class="s" x="23.8" y="40.5">0+</text></g>
<g id="Cf249" transform="translate(767,772.8) rotate(-90)"><rect class="c g" width="47.55" height="44.6"/><text class="m" x="27" y="16">249</text><text class="n" x="17" y="28">55</text><text class="n" x="34" y="28">13</text><text class="s" x="23.8" y="40.5">9/2-</text></g>
<g id="Cf248" transform="translate(767,820.35) rotate(-90)"><rect class="c g" width="47.55" height="44.6"/><text class="m" x="27" y="16">248</text><text class="n" x="17" y="28">50</text><text class="n" x="34" y="28">15</text><text class="s" x="23.8" y="40.5">0+</text></g>
<g id="Cf247" transform="translate(767,867.9) rotate(-90)"><rect class="c b" width="47.55" height="44.6"/><text class="m" x="27" y="16">247</text><text class="n" x="17" y="28">12</text><text class="n" x="34" y="28">4</text><text class="s" x="23.8" y="40.5">(7/2+)</text></g>
<g id="Cf246" transform="translate(767,915.45) rotate(-90)"><rect class="c g" width="47.55" height="44.6"/><text class="m" x="27" y="16">246</text><text class="n" x="17" y="28">2</text><text class="s" x="23.8" y="40.5">0+</text></g>
<g id="Cf245" transform="translate(767,963) rotate(-90)"><rect class="c b" width="47.55" height="44.6"/><text class="m" x="27" y="16">245</text><text class="n" x="17" y="28">2</text><text class="s" x="23.8" y="40.5">(1/2+,5/2+)</text></g>
<g id="Cf244" transform="translate(767,1010.55) rotate(-90)"><rect class="c g" width="47.55" height="44.6"/><text class="m" x="27" y="16">244</text><text class="n" x="17" y="28">2</text><text class="s" x="23.8" y="40.5">0+</text></g>
<g id="Cf243" transform="translate(767,1058.1) rotate(-90)"><rect class="c b" width="47.55" height="44.6"/><text class="m" x="27" y="16">243</text><text class="n" x="17" y="28">5</text><text class="n" x="34" y="28">1</text><text class="s" x="23.8" y="40.5">(1/2+)</text></g>
<g id="Cf242" transform="translate(767,1105.65) rotate(-90)"><rect class="c g" width="47.55" height="44.6"/><text class="m" x="27" y="16">242</text><text class="s" x="23.8" y="40.5">0+</text></g>
<g id="Cf241" transform="translate(767,1153.2) rotate(-90)"><rect class="c b" width="47.55" height="44.6"/><text class="m" x="27" y="16">241</text><text class="n" x="17" y="28">1</text><text class="s" x="23.8" y="40.5">(7/2-)</text></g>
<g id="Cf240" transform="translate(767,1200.75) rotate(-90)"><rect class="c g" width="47.55" height="44.6"/><text class="m" x="27" y="16">240</text><text class="s" x="23.8" y="40.5">0+</text></g>
<g id="Cf239" transform="translate(767,1248.3) rotate(-90)"><rect class="c g" width="47.55" height="44.6"/><text class="m" x="27" y="16">239</text><text class="s" x="23.8" y="40.5">?</text></g>
<g id="Cf238" transform="translate(767,1295.85) rotate(-90)"><rect class="c p" width="47.55" height="44.6"/><text class="m" x="27" y="16">238</text><text class="s" x="23.8" y="40.5">0+</text></g>
<g id="Cf237" transform="translate(767,1343.4) rotate(-90)"><rect class="c g" width="47.55" height="44.6"/><text class="m" x="27" y="16">237</text><text class="s" x="23.8" y="40.5">?</text></g>

<!-- legend -->
<g id="legend">
<rect class="c t" x="232.4" y="1152.7" width="44.4" height="47.3"/>
<rect class="c b" x="299" y="1152.7" width="44.4" height="47.3"/>
<rect class="c g" x="366" y="1152.7" width="44.4" height="47.3"/>
<rect class="c p" x="432.8" y="1152.7" width="44.4" height="47.3"/>
<text class="gk" transform="translate(263,1145) rotate(-90)">β<tspan x="19" y="-17" font-size="20">-</tspan></text>
<text class="gk" transform="translate(330,1145) rotate(-90)">β<tspan x="19" y="-17" font-size="20" font-weight="bold">+</tspan><tspan x="33" y="0" style="font-family:'Liberation Sans',Arial,sans-serif;font-weight:bold;font-size:32px">, EC</tspan></text>
<text class="gk" transform="translate(397,1145) rotate(-90)">α</text>
<text class="sf" transform="translate(463,1145) rotate(-90)">SF</text>
</g>
</svg>
